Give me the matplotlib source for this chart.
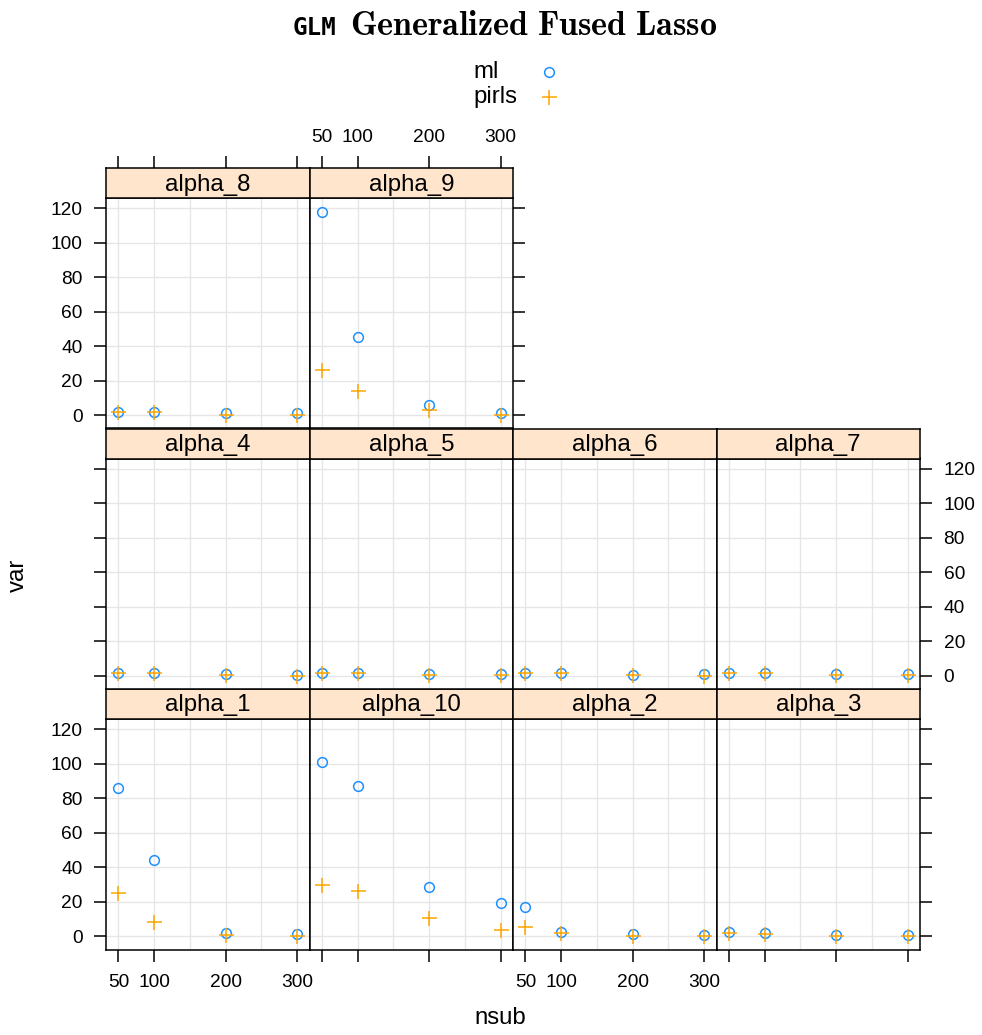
import matplotlib
matplotlib.use('Agg')
import matplotlib.pyplot as plt
from matplotlib.lines import Line2D

# --- datos ---
nsub = [50, 100, 200, 300]
panel_names = ['alpha_1', 'alpha_10', 'alpha_2', 'alpha_3',
               'alpha_4', 'alpha_5', 'alpha_6', 'alpha_7',
               'alpha_8', 'alpha_9']
ml_var = [
    [85.9, 44.4, 2.0, 1.4],     # alpha_1
    [101.3, 87.4, 28.4, 19.1],  # alpha_10
    [17.0, 2.3, 1.4, 1.0],      # alpha_2
    [2.3, 1.8, 1.0, 1.0],       # alpha_3
    [1.8, 1.8, 0.9, 0.8],       # alpha_4
    [1.8, 1.8, 0.9, 0.9],       # alpha_5
    [1.7, 1.7, 0.8, 1.0],       # alpha_6
    [1.8, 1.8, 0.9, 0.9],       # alpha_7
    [2.2, 2.2, 1.2, 1.2],       # alpha_8
    [117.9, 45.4, 6.2, 1.3],    # alpha_9
]
pirls_var = [
    [25.1, 8.3, 1.0, 0.4],      # alpha_1
    [29.9, 26.4, 10.6, 3.9],    # alpha_10
    [5.4, 1.9, 0.5, 0.3],       # alpha_2
    [1.8, 1.4, 0.4, 0.3],       # alpha_3
    [1.5, 1.4, 0.4, 0.2],       # alpha_4
    [1.5, 1.4, 0.4, 0.3],       # alpha_5
    [1.4, 1.4, 0.3, 0.2],       # alpha_6
    [1.5, 1.5, 0.4, 0.3],       # alpha_7
    [1.8, 1.8, 0.5, 0.3],       # alpha_8
    [26.5, 13.9, 2.9, 0.4],     # alpha_9
]
x_ticks = [50, 100, 200, 300]
y_ticks = [0, 20, 40, 60, 80, 100, 120]
x_grid = [50, 100, 150, 200, 250, 300]

# --- estilo ---
plt.rcParams['font.family'] = ['Liberation Sans', 'DejaVu Sans']
plt.rcParams['mathtext.fontset'] = 'cm'
W, H = 982, 1035
fig = plt.figure(figsize=(W / 100, H / 100), dpi=100)

col_ml = '#1E90FF'
col_pirls = '#FFA500'
strip_bg = '#ffe5cc'
grid_col = '#e6e6e6'
lw = 1.1
tick_fs = 13.8
strip_fs = 17.3
ms_circ = 7.0
ms_plus = 10.8

xlim = (32.5, 317.5)
ylim = (-7.6, 126.0)

# posiciones (pixeles)
col_left = [106, 309.5, 513, 716.5]
pw = 203.5
panel_bottom = [949.5, 689, 428.5]   # fila 0 = abajo
ph = 230.5
sh = 30


def fbox(x0, ytop, w, h):
    return [x0 / W, 1 - (ytop + h) / H, w / W, h / H]


for i, name in enumerate(panel_names):
    row, col = i // 4, i % 4
    last_col = 1 if row == 2 else 3
    ytop = panel_bottom[row] - ph
    ax = fig.add_axes(fbox(col_left[col], ytop, pw, ph))
    ax.set_xlim(*xlim)
    ax.set_ylim(*ylim)
    for gx in x_grid:
        ax.axvline(gx, color=grid_col, lw=1.0, zorder=0)
    for gy in y_ticks:
        ax.axhline(gy, color=grid_col, lw=1.0, zorder=0)
    ax.plot(nsub, ml_var[i], linestyle='none', marker='o', ms=ms_circ,
            mfc='none', mec=col_ml, mew=lw, zorder=3)
    ax.plot(nsub, pirls_var[i], linestyle='none', marker='+', ms=ms_plus,
            mec=col_pirls, mew=lw, zorder=4)
    for s in ax.spines.values():
        s.set_linewidth(lw)
    ax.set_xticks(x_ticks)
    ax.set_yticks(y_ticks)
    ax.tick_params(direction='out', length=8.6, width=lw, labelsize=tick_fs,
                   left=(col == 0), labelleft=(col == 0 and row != 1),
                   right=(col == last_col), labelright=(col == last_col and row == 1),
                   bottom=(row == 0), labelbottom=(row == 0 and col in (0, 2)),
                   top=False, labeltop=False)
    ax.tick_params(axis='x', pad=9.2)
    ax.tick_params(axis='y', pad=8.4)

    # strip
    sax = fig.add_axes(fbox(col_left[col], ytop - sh, pw, sh))
    sax.set_facecolor(strip_bg)
    sax.set_xlim(*xlim)
    sax.set_yticks([])
    for s in sax.spines.values():
        s.set_linewidth(lw)
    sax.text(0.5, 0.45, name, transform=sax.transAxes, ha='center', va='center',
             fontsize=strip_fs)
    if row == 2:
        sax.set_xticks(x_ticks)
        sax.tick_params(direction='out', length=8.6, width=lw, labelsize=tick_fs, pad=7,
                        bottom=False, labelbottom=False, top=True, labeltop=(col == 1))
    else:
        sax.set_xticks([])

# titulo
fig.text(336 / W, 1 - 35 / H, 'GLM', family='DejaVu Sans Mono', fontweight='bold',
         fontsize=17.5, ha='right', va='baseline')
fig.text(350 / W, 1 - 35 / H, r'$\mathbf{Generalized\ Fused\ Lasso}$',
         fontsize=24.5, ha='left', va='baseline')

# leyenda
for lab, yy, mk, cc, ms in [('ml', 72, 'o', col_ml, ms_circ), ('pirls', 97, '+', col_pirls, ms_plus)]:
    fig.text(473 / W, 1 - yy / H, lab, fontsize=strip_fs, ha='left', va='center')
    fig.add_artist(Line2D([549 / W], [1 - yy / H], transform=fig.transFigure,
                          linestyle='none', marker=mk, ms=ms, mfc='none',
                          mec=cc, mew=lw))

# etiquetas de ejes
fig.text(18 / W, 1 - 575 / H, 'var', rotation=90, fontsize=strip_fs, ha='center', va='center')
fig.text(500 / W, 1 - 1018 / H, 'nsub', fontsize=strip_fs, ha='center', va='center')

plt.savefig('out.png', dpi=100)
